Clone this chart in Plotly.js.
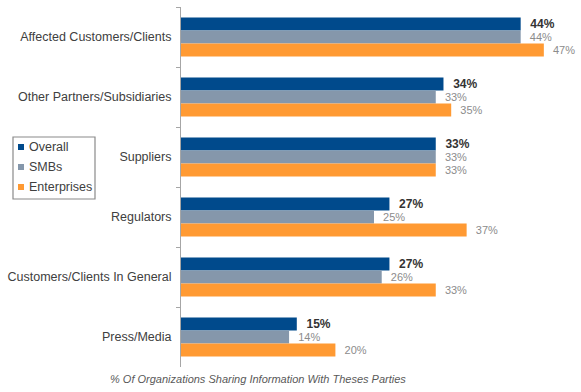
<!DOCTYPE html>
<html>
<head>
<meta charset="utf-8">
<script src="https://cdn.plot.ly/plotly-3.0.1.min.js"></script>
<style>html,body{margin:0;padding:0;background:#fff;}#chart{width:581px;height:392px;}</style>
</head>
<body>
<div id="chart"></div>
<script>
const categories = ["Affected Customers/Clients","Other Partners/Subsidiaries","Suppliers","Regulators","Customers/Clients In General","Press/Media"];
const seriesNames = ["Overall","SMBs","Enterprises"];
const overall = [44,34,33,27,27,15];
const smbs = [44,33,33,25,26,14];
const enterprises = [47,35,33,37,33,20];
const xTitle = "% Of Organizations Sharing Information With Theses Parties";

const colors = ["#004a8c","#8597ab","#ff9a33"];
const seriesValues = [overall, smbs, enterprises];

const W = 581, H = 392;
const M = {l:181, r:6, t:7, b:25};
const PW = W - M.l - M.r, PH = H - M.t - M.b;
const px = x => (x - M.l) / PW;
const py = y => 1 - (y - M.t) / PH;

const traces = seriesValues.map((vals, i) => ({
  type: "bar",
  orientation: "h",
  name: seriesNames[i],
  y: categories,
  x: vals,
  text: vals.map(v => "\u00a0\u00a0" + v + "%"),
  textposition: "outside",
  constraintext: "none",
  cliponaxis: false,
  textfont: i === 0
    ? {family: "Liberation Sans, Arial, sans-serif", size: 12, color: "#333333", weight: "bold"}
    : {family: "Liberation Sans, Arial, sans-serif", size: 11, color: "#8c8c8c"},
  marker: {color: colors[i], line: {width: 0}},
  showlegend: false,
  hoverinfo: "none"
}));

const shapes = [];
const annotations = [];
// custom legend box
shapes.push({type:"rect", xref:"paper", yref:"paper", x0:px(13), x1:px(95), y0:py(137), y1:py(199), line:{color:"#8a8a8a", width:1.2}, fillcolor:"rgba(0,0,0,0)"});
seriesNames.forEach((n, i) => {
  const cy = 147 + i * 20;
  shapes.push({type:"rect", xref:"paper", yref:"paper", x0:px(18), x1:px(24), y0:py(cy+3), y1:py(cy-3), line:{width:0}, fillcolor:colors[i]});
  annotations.push({xref:"paper", yref:"paper", x:px(27), y:py(cy), xanchor:"left", yanchor:"middle", showarrow:false, text:n,
    font:{family:"Liberation Sans, Arial, sans-serif", size:12.5, color:"#404040"}});
});
annotations.push({xref:"paper", yref:"paper", x:px(258), y:py(379), xanchor:"center", yanchor:"middle", showarrow:false,
  text:"<i>" + xTitle + "</i>", font:{family:"Liberation Sans, Arial, sans-serif", size:11, color:"#595959"}});

const layout = {
  width: W, height: H,
  margin: M,
  paper_bgcolor: "#ffffff", plot_bgcolor: "#ffffff",
  barmode: "group", bargap: 0.35, bargroupgap: 0,
  showlegend: false,
  xaxis: {range:[0, PW/7.72], visible:false, fixedrange:true},
  yaxis: {type:"category", autorange:"reversed", showline:true, linecolor:"#a6a6a6", linewidth:1,
    ticks:"outside", tickson:"boundaries", ticklen:4, tickcolor:"#a6a6a6", showgrid:false, zeroline:false,
    ticklabelstandoff: 6,
    tickfont:{family:"Liberation Sans, Arial, sans-serif", size:12.5, color:"#404040"}},
  shapes: shapes,
  annotations: annotations
};

Plotly.newPlot("chart", traces, layout, {displayModeBar:false, staticPlot:true});
</script>
</body>
</html>
